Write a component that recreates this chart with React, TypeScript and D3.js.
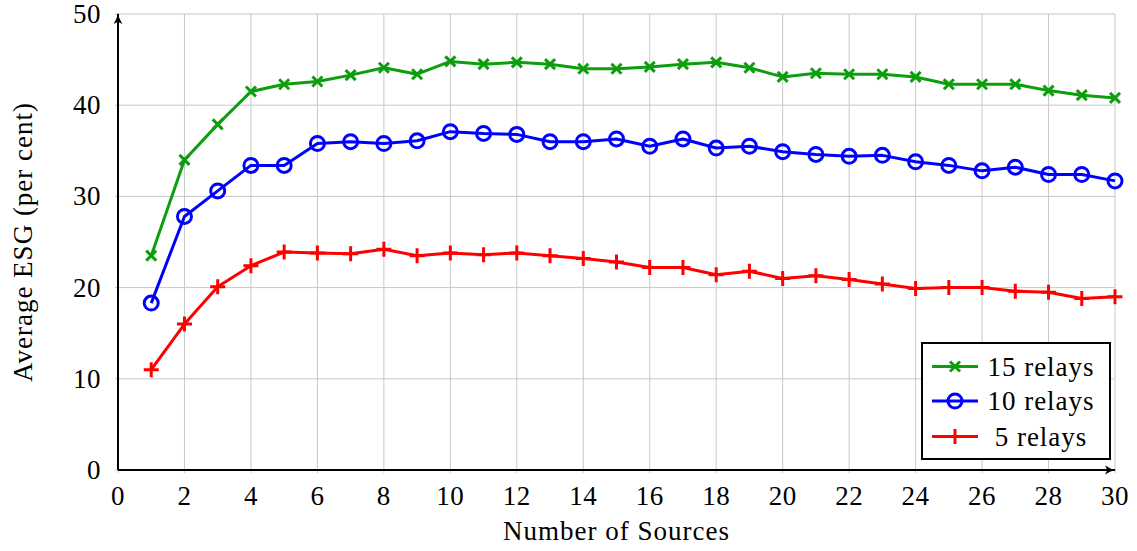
import React from "react";
import * as d3 from "d3";

// number of sources (x values)
const sources = d3.range(1, 31);

// average ESG (per cent)
const relays15 = [
  23.5, 34.0, 37.9, 41.5, 42.3, 42.6, 43.3, 44.1, 43.4, 44.8,
  44.5, 44.7, 44.5, 44.0, 44.0, 44.2, 44.5, 44.7, 44.1, 43.1,
  43.5, 43.4, 43.4, 43.1, 42.3, 42.3, 42.3, 41.6, 41.1, 40.8,
];
const relays10 = [
  18.3, 27.8, 30.6, 33.4, 33.4, 35.8, 36.0, 35.8, 36.1, 37.1,
  36.9, 36.8, 36.0, 36.0, 36.3, 35.5, 36.3, 35.3, 35.5, 34.9,
  34.6, 34.4, 34.5, 33.8, 33.4, 32.8, 33.2, 32.4, 32.4, 31.7,
];
const relays5 = [
  11.0, 16.0, 20.1, 22.4, 23.9, 23.8, 23.7, 24.2, 23.5, 23.8,
  23.6, 23.8, 23.5, 23.2, 22.8, 22.2, 22.2, 21.4, 21.8, 21.0,
  21.3, 20.9, 20.4, 19.9, 20.0, 20.0, 19.6, 19.5, 18.8, 19.0,
];

const xTicks = d3.range(0, 31, 2);
const yTicks = [0, 10, 20, 30, 40, 50];

const seriesList = [
  { name: "15 relays", values: relays15, color: "#0d9e0d", mark: "x" },
  { name: "10 relays", values: relays10, color: "#0000ff", mark: "o" },
  { name: "5 relays", values: relays5, color: "#ff0000", mark: "+" },
];

const W = 1137;
const H = 551;
const FONT = "'Liberation Serif', 'DejaVu Serif', serif";
const FS = 27;

const Marker = ({ type, x, y, color }) => {
  if (type === "o") {
    return <circle cx={x} cy={y} r={7} fill="none" stroke={color} strokeWidth={3} />;
  }
  if (type === "x") {
    const s = 5;
    return (
      <path
        d={`M${x - s},${y - s}L${x + s},${y + s}M${x - s},${y + s}L${x + s},${y - s}`}
        stroke={color}
        strokeWidth={3}
      />
    );
  }
  const s = 7.5;
  return (
    <path
      d={`M${x - s},${y}L${x + s},${y}M${x},${y - s}L${x},${y + s}`}
      stroke={color}
      strokeWidth={3}
    />
  );
};

const App = () => {
  const x = d3.scaleLinear().domain([0, 30]).range([118, 1115]);
  const y = d3.scaleLinear().domain([0, 50]).range([470, 14]);

  const line = d3
    .line()
    .x((d) => x(d[0]))
    .y((d) => y(d[1]));

  // legend placement
  const lg = { x: 922, y: 343, w: 188, h: 116 };
  const rowY = [366.5, 401, 436.5];

  return (
    <svg
      width={W}
      height={H}
      style={{ position: "absolute", left: 0, top: 0, background: "#fff" }}
      fontFamily={FONT}
    >
      <defs>
        <marker
          id="arrow"
          viewBox="0 0 10 10"
          refX="9"
          refY="5"
          markerWidth="11"
          markerHeight="11"
          orient="auto"
          markerUnits="userSpaceOnUse"
        >
          <path d="M0,1 Q5,4.5 10,5 Q5,5.5 0,9 L2,5 Z" fill="#000" />
        </marker>
      </defs>

      {/* grid */}
      <g stroke="#c8c8c8" strokeWidth={1}>
        {xTicks.map((t) => (
          <line key={"gx" + t} x1={x(t)} x2={x(t)} y1={y(50)} y2={y(0) + 3} />
        ))}
        {yTicks.map((t) => (
          <line key={"gy" + t} x1={x(0) - 3} x2={x(30)} y1={y(t)} y2={y(t)} />
        ))}
      </g>

      {/* axes */}
      <line
        x1={x(0)}
        y1={y(0)}
        x2={x(0)}
        y2={y(50)}
        stroke="#000"
        strokeWidth={2}
        markerEnd="url(#arrow)"
      />
      <line
        x1={x(0)}
        y1={y(0)}
        x2={x(30)}
        y2={y(0)}
        stroke="#000"
        strokeWidth={2}
        markerEnd="url(#arrow)"
      />

      {/* tick labels */}
      <g fontSize={FS} fill="#000" letterSpacing={0.5}>
        {xTicks.map((t) => (
          <text key={"tx" + t} x={x(t)} y={505} textAnchor="middle">
            {t}
          </text>
        ))}
        {yTicks.map((t) => (
          <text key={"ty" + t} x={101} y={y(t) + 9} textAnchor="end">
            {t}
          </text>
        ))}
      </g>

      {/* axis titles */}
      <text
        x={(x(0) + x(30)) / 2}
        y={540}
        textAnchor="middle"
        fontSize={FS}
        letterSpacing={1}
      >
        Number of Sources
      </text>
      <text
        transform={`translate(32, ${(y(0) + y(50)) / 2}) rotate(-90)`}
        textAnchor="middle"
        fontSize={FS}
        letterSpacing={1}
      >
        Average ESG (per cent)
      </text>

      {/* series */}
      {seriesList.map((s) => {
        const pts = sources.map((v, i) => [v, s.values[i]]);
        return (
          <g key={s.name}>
            <path d={line(pts)} fill="none" stroke={s.color} strokeWidth={3} strokeLinejoin="round" />
            {pts.map((p, i) => (
              <Marker key={i} type={s.mark} x={x(p[0])} y={y(p[1])} color={s.color} />
            ))}
          </g>
        );
      })}

      {/* legend */}
      <rect x={lg.x} y={lg.y} width={lg.w} height={lg.h} fill="#fff" stroke="#000" strokeWidth={2} />
      {seriesList.map((s, i) => (
        <g key={"lg" + s.name}>
          <line x1={932} x2={978} y1={rowY[i]} y2={rowY[i]} stroke={s.color} strokeWidth={3} />
          <Marker type={s.mark} x={955} y={rowY[i]} color={s.color} />
          <text x={1041} y={rowY[i] + 9} textAnchor="middle" fontSize={FS} letterSpacing={1}>
            {s.name}
          </text>
        </g>
      ))}
    </svg>
  );
};

export default App;
